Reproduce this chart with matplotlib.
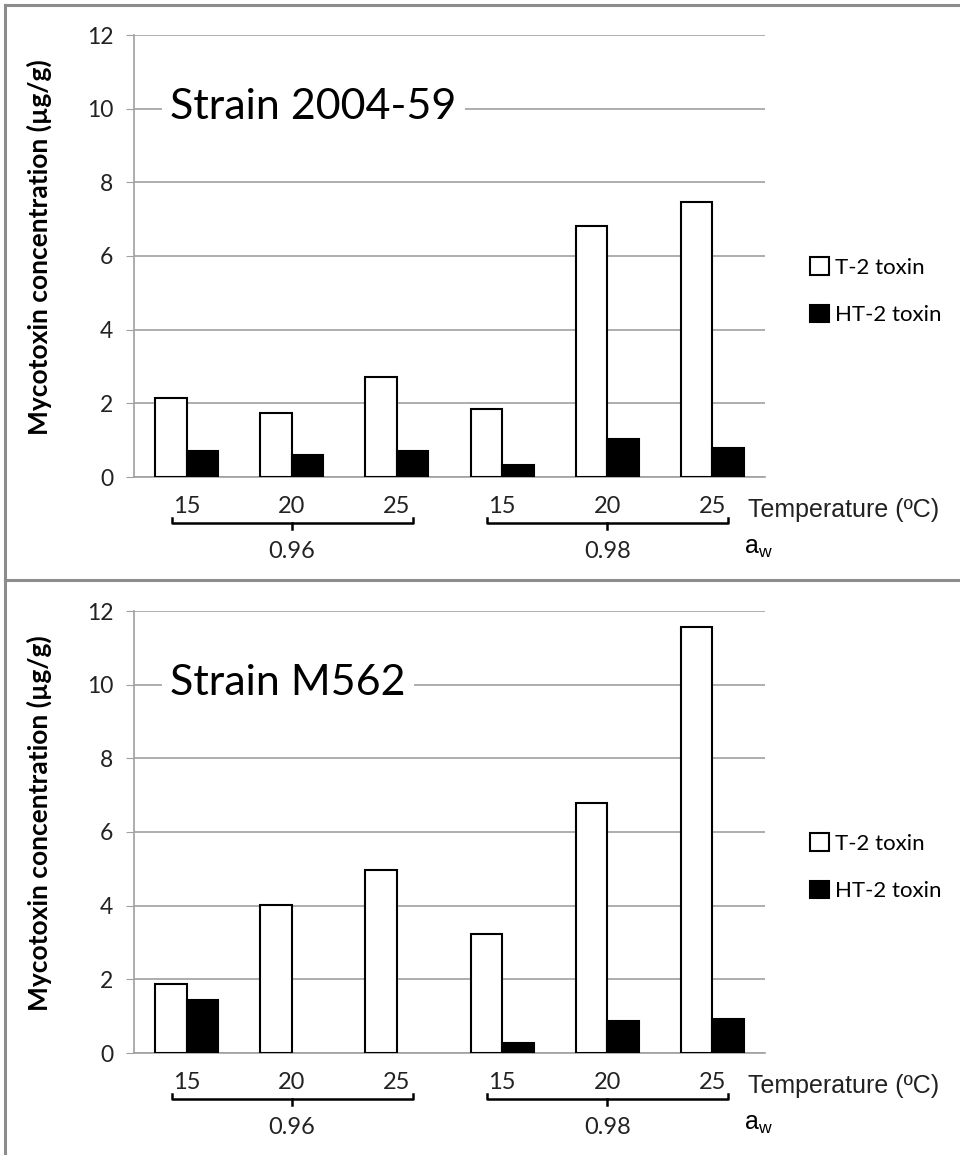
import matplotlib
matplotlib.use("Agg")
import matplotlib.pyplot as plt
from matplotlib import font_manager
from matplotlib.lines import Line2D

# Data
temperatures = ["15", "20", "25", "15", "20", "25"]
aw_levels = ["0.96", "0.98"]
series_names = ["T-2 toxin", "HT-2 toxin"]

t2_2004_59 = [2.15, 1.73, 2.72, 1.84, 6.82, 7.47]
ht2_2004_59 = [0.71, 0.60, 0.71, 0.32, 1.02, 0.78]

t2_m562 = [1.86, 4.03, 4.96, 3.24, 6.78, 11.57]
ht2_m562 = [1.43, 0.0, 0.0, 0.27, 0.86, 0.93]

strains = ["Strain 2004-59", "Strain M562"]
yticks = [0, 2, 4, 6, 8, 10, 12]

W, H = 960, 1155
plt.rcParams["font.family"] = ["Lato", "DejaVu Sans"]

# condensed face for the axis captions if there is one
installed = {f.name for f in font_manager.fontManager.ttflist}
if "Liberation Sans Narrow" in installed:
    narrow, narrow_size = ["Liberation Sans Narrow", "DejaVu Sans"], 21.5
else:
    narrow, narrow_size = ["Liberation Sans", "DejaVu Sans"], 18

fig = plt.figure(figsize=(W / 100, H / 100), dpi=100)


def px_axes(left, top, right, bottom):
    return [left / W, 1 - bottom / H, (right - left) / W, (bottom - top) / H]


panels = [
    (px_axes(134, 35, 765, 477), t2_2004_59, ht2_2004_59),
    (px_axes(134, 611, 765, 1053), t2_m562, ht2_m562),
]

grey = "#a0a0a0"
bw = 0.30
x = list(range(len(temperatures)))
h_ax = 442.0

for i, (rect, t2, ht2) in enumerate(panels):
    ax = fig.add_axes(rect)
    ax.bar([v - bw / 2 for v in x], t2, bw, color="white", edgecolor="black",
           linewidth=[1.5 if v > 0 else 0 for v in t2],
           label=series_names[0], zorder=3)
    ax.bar([v + bw / 2 for v in x], ht2, bw, color="black", edgecolor="black",
           linewidth=[1.5 if v > 0 else 0 for v in ht2],
           label=series_names[1], zorder=3)

    ax.set_xlim(-0.5, 5.5)
    ax.set_ylim(0, 12)
    ax.set_yticks(yticks)
    ax.set_yticklabels([str(t) for t in yticks], fontsize=16.5, color="#222222")
    ax.tick_params(axis="y", length=6, color=grey, pad=9)
    ax.yaxis.grid(True, color=grey, linewidth=1.2, zorder=0)
    ax.set_axisbelow(True)
    for s in ["top", "right"]:
        ax.spines[s].set_visible(False)
    for s in ["left", "bottom"]:
        ax.spines[s].set_color(grey)
        ax.spines[s].set_linewidth(1.2)

    ax.set_xticks(x)
    ax.set_xticklabels(temperatures, fontsize=17, color="#222222")
    ax.tick_params(axis="x", length=0, pad=13.5)

    ax.set_ylabel("Mycotoxin concentration (µg/g)", fontsize=19,
                  fontweight="bold")
    ax.yaxis.set_label_coords(-0.13, 0.52)

    tr = ax.get_xaxis_transform()
    ax.text(5.34, -40 / h_ax, "Temperature (ºC)", transform=tr, ha="left",
            va="baseline", fontsize=narrow_size, family=narrow, color="#222222")

    # brackets grouping temperatures by water activity
    y_line = -46 / h_ax
    y_hook = -41 / h_ax
    y_tip = -52 / h_ax
    for g, lab in enumerate(aw_levels):
        x0, x1 = 3 * g - 0.14, 3 * g + 2.15
        xc = 3 * g + 1
        ax.plot([x0, x0, x1, x1], [y_hook, y_line, y_line, y_hook],
                transform=tr, clip_on=False, color="black", lw=1.8)
        ax.plot([xc, xc], [y_line, y_tip], transform=tr, clip_on=False,
                color="black", lw=1.8)
        ax.text(xc, -81 / h_ax, lab, transform=tr, ha="center", va="baseline",
                fontsize=17, color="#222222")
    ax.text(5.3, -77 / h_ax, r"$\mathregular{a_w}$", transform=tr, ha="left",
            va="baseline", fontsize=narrow_size, family=narrow, color="black")

    ax.text(-0.157, 10.05, strains[i], fontsize=31, ha="left", va="center",
            zorder=5, bbox=dict(facecolor="white", edgecolor="none", pad=6))

    ax.legend(loc="center left", bbox_to_anchor=(1.04, 0.42), frameon=False,
              fontsize=16, handlelength=0.85, handleheight=0.85,
              handletextpad=0.25, labelspacing=1.2)

# panel frames
frame = dict(color="#8c8c8c", linewidth=2.2, transform=fig.transFigure)
fig.add_artist(Line2D([5 / W, 5 / W], [0, 1 - 5 / H], **frame))
fig.add_artist(Line2D([5 / W, 1], [1 - 5 / H, 1 - 5 / H], **frame))
fig.add_artist(Line2D([5 / W, 1], [1 - 580 / H, 1 - 580 / H], **frame))

fig.savefig("out.png", dpi=100, facecolor="white")
